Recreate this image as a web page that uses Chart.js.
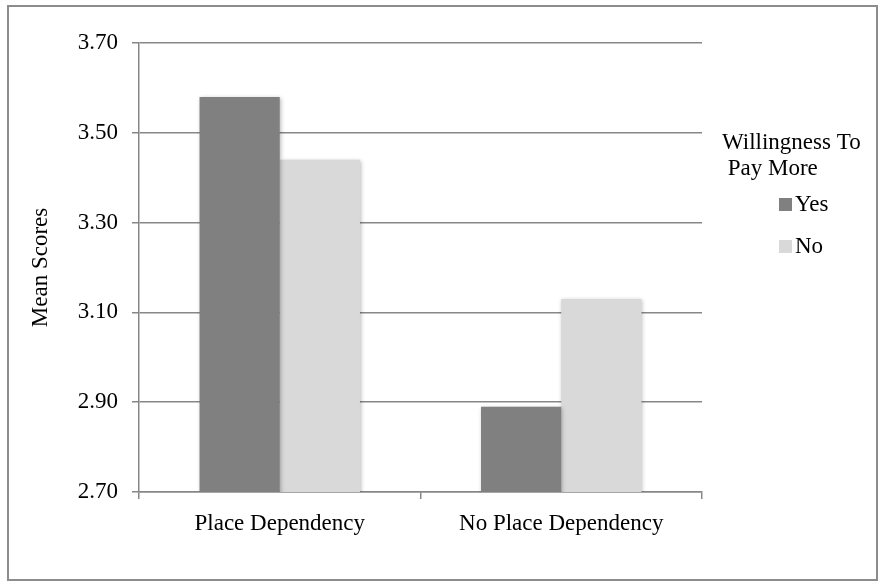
<!DOCTYPE html>
<html>
<head>
<meta charset="utf-8">
<script src="https://cdn.jsdelivr.net/npm/chart.js@4/dist/chart.umd.min.js"></script>
<style>
  html, body { margin: 0; padding: 0; background: #ffffff; }
  #wrap { position: relative; width: 882px; height: 581px; }
  #frame { position: absolute; left: 7px; top: 5px; width: 867px; height: 572px; border: 2px solid #8c8c8c; box-sizing: content-box; pointer-events: none; }
  canvas { position: absolute; left: 0; top: 0; }
</style>
</head>
<body>
<div id="wrap">
  <canvas id="c" width="882" height="581"></canvas>
  <div id="frame"></div>
</div>
<script>
// Mean scores by place dependency, split by willingness to pay more
const categories = ['Place Dependency', 'No Place Dependency'];
const yesScores = [3.58, 2.89];
const noScores = [3.44, 3.13];
const seriesNames = ['Yes', 'No'];
const legendTitle = ['Willingness To', ' Pay More'];
const yTicks = [2.70, 2.90, 3.10, 3.30, 3.50, 3.70];
const yTitle = 'Mean Scores';

const FONT = '"Liberation Serif", "Times New Roman", serif';
const FONT_SIZE = 23;
const TEXT = '#000000';
const GRID = '#878787';

// soft drop shadow under the bars
const barShadow = {
  id: 'barShadow',
  beforeDatasetsDraw(chart) {
    const ctx = chart.ctx;
    ctx.save();
    ctx.shadowColor = 'rgba(0,0,0,0.28)';
    ctx.shadowBlur = 4;
    ctx.shadowOffsetX = 1;
    ctx.shadowOffsetY = 1;
  },
  afterDatasetsDraw(chart) {
    chart.ctx.restore();
  }
};

// legend block on the right: two-line title and swatches
const sideLegend = {
  id: 'sideLegend',
  afterDraw(chart) {
    const ctx = chart.ctx;
    ctx.save();
    ctx.font = FONT_SIZE + 'px ' + FONT;
    ctx.fillStyle = TEXT;
    ctx.textBaseline = 'middle';
    ctx.textAlign = 'left';
    ctx.fillText(legendTitle[0], 722, 143);
    ctx.fillText(legendTitle[1], 722, 169);
    const rows = [204, 246];
    chart.data.datasets.forEach((ds, i) => {
      ctx.fillStyle = ds.backgroundColor;
      ctx.fillRect(779, rows[i] - 6, 13, 13);
      ctx.fillStyle = TEXT;
      ctx.fillText(ds.label, 795, rows[i] + 1);
    });
    ctx.restore();
  }
};

new Chart(document.getElementById('c'), {
  type: 'bar',
  data: {
    labels: categories,
    datasets: [
      { label: seriesNames[0], data: yesScores, backgroundColor: '#808080', borderWidth: 0 },
      { label: seriesNames[1], data: noScores, backgroundColor: '#d9d9d9', borderWidth: 0 }
    ]
  },
  options: {
    responsive: false,
    animation: false,
    devicePixelRatio: 1,
    layout: { padding: { left: 8, top: 43, right: 180, bottom: 29 } },
    datasets: { bar: { categoryPercentage: 0.57, barPercentage: 1.0 } },
    plugins: {
      legend: { display: false },
      tooltip: { enabled: false }
    },
    scales: {
      x: {
        afterFit(scale) { scale.height = 60; },
        grid: {
          offset: true,
          drawOnChartArea: false,
          drawTicks: true,
          tickLength: 7,
          color: GRID,
          lineWidth: 1.5
        },
        border: { display: true, color: GRID, width: 1.5 },
        ticks: {
          color: TEXT,
          padding: 11,
          font: { family: FONT, size: FONT_SIZE },
          maxRotation: 0
        }
      },
      y: {
        min: 2.7,
        max: 3.7,
        afterFit(scale) { scale.width = 131; },
        afterBuildTicks(scale) {
          scale.ticks = yTicks.map(v => ({ value: v }));
        },
        grid: {
          color: GRID,
          lineWidth: 1.5,
          drawTicks: true,
          tickLength: 7
        },
        border: { display: true, color: GRID, width: 1.5 },
        ticks: {
          color: TEXT,
          padding: 14,
          font: { family: FONT, size: FONT_SIZE },
          callback: v => Number(v).toFixed(2)
        },
        title: {
          display: true,
          text: yTitle,
          color: TEXT,
          font: { family: FONT, size: FONT_SIZE },
          padding: { top: 19, bottom: 0 }
        }
      }
    }
  },
  plugins: [barShadow, sideLegend]
});
</script>
</body>
</html>
